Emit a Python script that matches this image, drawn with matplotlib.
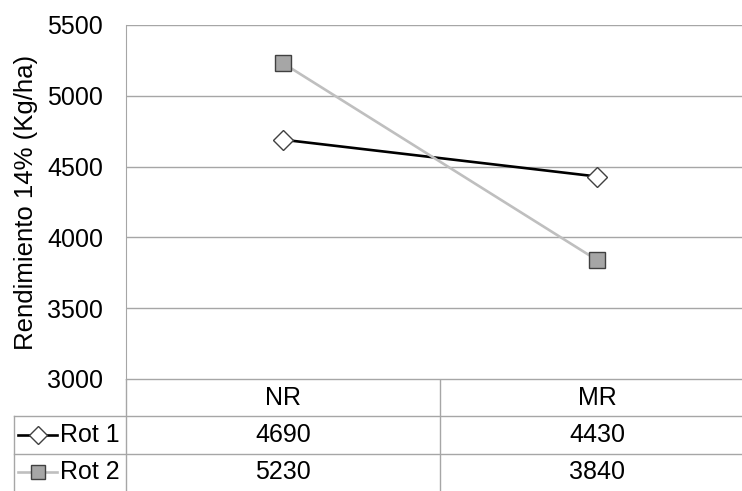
import matplotlib.pyplot as plt
import numpy as np

plt.rcParams['font.family'] = ['Liberation Sans', 'DejaVu Sans']

categorias = ['NR', 'MR']
series = ['Rot 1', 'Rot 2']
rot1 = [4690, 4430]
rot2 = [5230, 3840]
valores = [rot1, rot2]
yticks = [3000, 3500, 4000, 4500, 5000, 5500]

estilos = [
    dict(color='black', marker='D', markersize=10, markerfacecolor='white',
         markeredgecolor='#404040', markeredgewidth=1.0),
    dict(color='#BFBFBF', marker='s', markersize=11, markerfacecolor='#A6A6A6',
         markeredgecolor='#404040', markeredgewidth=1.0),
]
gris = '#A6A6A6'
fs = 18

W, H = 742, 491
fig = plt.figure(figsize=(W / 100, H / 100), dpi=100)

# zona del grafico (en pixeles)
x0, y_top, y_bot = 126, 25, 379
ancho_cat = 314
xmax = (W - x0) / ancho_cat

ax = fig.add_axes([x0 / W, 1 - y_bot / H, (W - x0) / W, (y_bot - y_top) / H])
x = np.arange(len(categorias)) + 0.5
for vals, est in zip(valores, estilos):
    ax.plot(x, vals, linewidth=1.9, zorder=3, **est)

ax.set_xlim(0, xmax)
ax.set_ylim(yticks[0], yticks[-1])
ax.set_yticks(yticks)
ax.set_xticks([])
ax.tick_params(axis='y', length=0, pad=16.5, labelsize=fs)
ax.grid(axis='y', color=gris, linewidth=1.0)
ax.set_axisbelow(True)
for lado in ['top', 'right', 'bottom']:
    ax.spines[lado].set_visible(False)
ax.spines['left'].set_color(gris)
fig.text(26 / W, 1 - 202 / H, 'Rendimiento 14% (Kg/ha)', rotation=90,
         ha='center', va='center', fontsize=18.5)

# tabla de datos debajo
tb = fig.add_axes([0, 0, 1, (H - y_bot) / H])
tb.set_xlim(-x0 / ancho_cat, xmax)
tb.set_ylim(3, 0)
tb.axis('off')
xizq = (14 - x0) / ancho_cat
tb.plot([0, 0], [0, 3], color=gris, lw=1.0)
tb.plot([1, 1], [0, 3], color=gris, lw=1.0)
tb.plot([0, xmax], [0, 0], color=gris, lw=1.0)
tb.plot([xizq, xmax], [1, 1], color=gris, lw=1.0)
tb.plot([xizq, xmax], [2, 2], color=gris, lw=1.0)
tb.plot([xizq, xizq], [1, 3], color=gris, lw=1.0)

for i, c in enumerate(categorias):
    tb.text(i + 0.5, 0.5, c, ha='center', va='center', fontsize=fs)

for j, (nombre, vals, est) in enumerate(zip(series, valores, estilos)):
    fila = j + 1.5
    xl = [(18 - x0) / ancho_cat, (57 - x0) / ancho_cat]
    tb.plot(xl, [fila, fila], linewidth=1.9, color=est['color'])
    mk = dict(est)
    mk['markersize'] = est['markersize'] * 0.9
    tb.plot([np.mean(xl)], [fila], linestyle='none', **mk)
    tb.text((60 - x0) / ancho_cat, fila, nombre, ha='left', va='center', fontsize=fs)
    for i, v in enumerate(vals):
        tb.text(i + 0.5, fila, str(v), ha='center', va='center', fontsize=fs)

fig.savefig('out.png', dpi=100)
